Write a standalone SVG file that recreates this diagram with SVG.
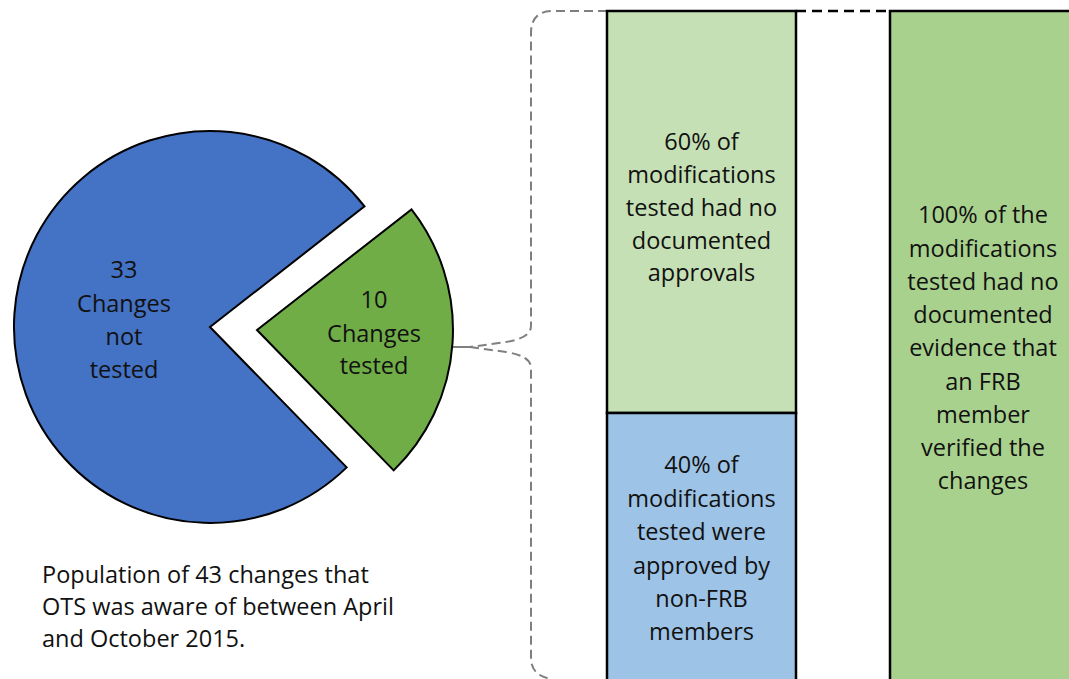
<svg xmlns="http://www.w3.org/2000/svg" width="1069" height="679" viewBox="0 0 1069 679">
<style>
.t{font-family:"Open Sans","Noto Sans",sans-serif;font-size:23.5px;fill:#111;text-anchor:middle}
.tl{font-family:"Open Sans","Noto Sans",sans-serif;font-size:23.5px;fill:#111}
.slice{stroke:#000;stroke-width:2;stroke-linejoin:miter}
.box{stroke:#000;stroke-width:2.5}
.brk{fill:none;stroke:#7f7f7f;stroke-width:2;stroke-dasharray:9 5}
</style>
<rect width="1069" height="679" fill="#fff"/>
<g id="connectors">
<path class="brk" d="M607,11 H553 Q531,11 531,33 V326 Q531,338 506,342 L470,347"/>
<path class="brk" d="M470,347 L506,352 Q531,356 531,368 V658 Q531,676 552,679"/>
<path d="M452,347 L472,347" fill="none" stroke="#7f7f7f" stroke-width="2"/>
<path d="M796,11 H890" fill="none" stroke="#000" stroke-width="2.5" stroke-dasharray="10 6"/>
</g>
<g id="slice-not-tested">
<path class="slice" fill="#4472c4" d="M210,327 L364.5,206.4 A196,196 0 1,0 346.7,467.4 Z"/>
<text class="t" x="124" y="278">33</text>
<text class="t" x="124" y="312">Changes</text>
<text class="t" x="124" y="345">not</text>
<text class="t" x="124" y="378">tested</text>
</g>
<g id="slice-tested">
<path class="slice" fill="#70ad47" d="M257,330 L411.5,209.4 A196,196 0 0,1 393.7,470.4 Z"/>
<text class="t" x="374" y="308">10</text>
<text class="t" x="374" y="342">Changes</text>
<text class="t" x="374" y="374">tested</text>
</g>
<g id="caption">
<text class="tl" x="42" y="583">Population of 43 changes that</text>
<text class="tl" x="42" y="615">OTS was aware of between April</text>
<text class="tl" x="42" y="647">and October 2015.</text>
</g>
<g id="box-no-approvals">
<rect class="box" x="607" y="11" width="189" height="402" fill="#c5e0b4"/>
<text class="t" x="701.5" y="150">60% of</text>
<text class="t" x="701.5" y="183">modifications</text>
<text class="t" x="701.5" y="216">tested had no</text>
<text class="t" x="701.5" y="249">documented</text>
<text class="t" x="701.5" y="281">approvals</text>
</g>
<g id="box-non-frb">
<rect class="box" x="607" y="413" width="189" height="280" fill="#9dc3e6"/>
<text class="t" x="701.5" y="473">40% of</text>
<text class="t" x="701.5" y="507">modifications</text>
<text class="t" x="701.5" y="540">tested were</text>
<text class="t" x="701.5" y="574">approved by</text>
<text class="t" x="701.5" y="607">non-FRB</text>
<text class="t" x="701.5" y="640">members</text>
</g>
<g id="box-frb">
<rect class="box" x="890" y="11" width="200" height="690" fill="#a9d18e"/>
<text class="t" x="983" y="223">100% of the</text>
<text class="t" x="983" y="257">modifications</text>
<text class="t" x="983" y="290">tested had no</text>
<text class="t" x="983" y="323">documented</text>
<text class="t" x="983" y="356">evidence that</text>
<text class="t" x="983" y="390">an FRB</text>
<text class="t" x="983" y="423">member</text>
<text class="t" x="983" y="456">verified the</text>
<text class="t" x="983" y="489">changes</text>
</g>
</svg>
